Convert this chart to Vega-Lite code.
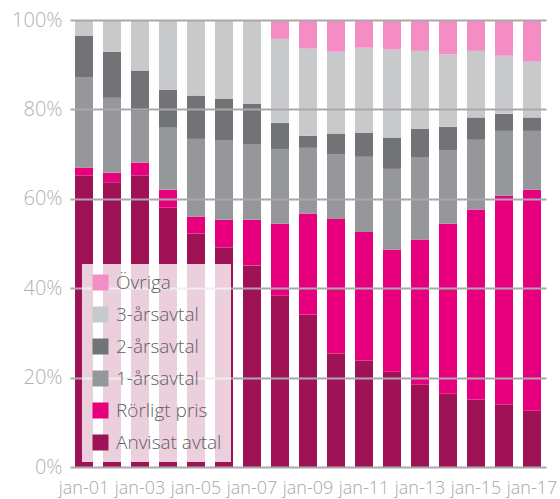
{
  "$schema": "https://vega.github.io/schema/vega-lite/v6.json",
  "width": 476,
  "height": 447,
  "autosize": {"type": "none"},
  "padding": {"left": 70, "top": 20, "right": 14, "bottom": 32},
  "background": "white",
  "config": {
    "view": {"stroke": null},
    "font": "Open Sans"
  },
  "data": {
    "values": [
      {"m": "jan-01", "Anvisat avtal": 65.2, "Rörligt pris": 1.8, "1-årsavtal": 20.1, "2-årsavtal": 9.4, "3-årsavtal": 3.5, "Övriga": 0},
      {"m": "jan-02", "Anvisat avtal": 63.7, "Rörligt pris": 2.1, "1-årsavtal": 16.8, "2-årsavtal": 10.3, "3-årsavtal": 7.1, "Övriga": 0},
      {"m": "jan-03", "Anvisat avtal": 65.2, "Rörligt pris": 2.9, "1-årsavtal": 11.4, "2-årsavtal": 9.2, "3-årsavtal": 11.3, "Övriga": 0},
      {"m": "jan-04", "Anvisat avtal": 58.0, "Rörligt pris": 4.0, "1-årsavtal": 13.9, "2-årsavtal": 8.5, "3-årsavtal": 15.6, "Övriga": 0},
      {"m": "jan-05", "Anvisat avtal": 52.2, "Rörligt pris": 3.8, "1-årsavtal": 17.4, "2-årsavtal": 9.7, "3-årsavtal": 16.9, "Övriga": 0},
      {"m": "jan-06", "Anvisat avtal": 49.1, "Rörligt pris": 6.2, "1-årsavtal": 17.7, "2-årsavtal": 9.4, "3-årsavtal": 17.6, "Övriga": 0},
      {"m": "jan-07", "Anvisat avtal": 45.1, "Rörligt pris": 10.2, "1-årsavtal": 16.8, "2-årsavtal": 9.2, "3-årsavtal": 18.7, "Övriga": 0},
      {"m": "jan-08", "Anvisat avtal": 38.3, "Rörligt pris": 16.1, "1-årsavtal": 16.6, "2-årsavtal": 6.0, "3-årsavtal": 18.8, "Övriga": 4.2},
      {"m": "jan-09", "Anvisat avtal": 34.1, "Rörligt pris": 22.6, "1-årsavtal": 14.7, "2-årsavtal": 2.7, "3-årsavtal": 19.5, "Övriga": 6.4},
      {"m": "jan-10", "Anvisat avtal": 25.4, "Rörligt pris": 30.1, "1-årsavtal": 14.4, "2-årsavtal": 4.7, "3-årsavtal": 18.3, "Övriga": 7.1},
      {"m": "jan-11", "Anvisat avtal": 23.8, "Rörligt pris": 28.8, "1-årsavtal": 16.8, "2-årsavtal": 5.4, "3-årsavtal": 19.0, "Övriga": 6.2},
      {"m": "jan-12", "Anvisat avtal": 21.3, "Rörligt pris": 27.3, "1-årsavtal": 18.1, "2-årsavtal": 7.0, "3-årsavtal": 19.7, "Övriga": 6.6},
      {"m": "jan-13", "Anvisat avtal": 18.4, "Rörligt pris": 32.5, "1-årsavtal": 18.3, "2-årsavtal": 6.5, "3-årsavtal": 17.4, "Övriga": 6.9},
      {"m": "jan-14", "Anvisat avtal": 16.4, "Rörligt pris": 38.0, "1-årsavtal": 16.4, "2-årsavtal": 5.3, "3-årsavtal": 16.2, "Övriga": 7.7},
      {"m": "jan-15", "Anvisat avtal": 15.1, "Rörligt pris": 42.5, "1-årsavtal": 15.6, "2-årsavtal": 5.0, "3-årsavtal": 14.9, "Övriga": 6.9},
      {"m": "jan-16", "Anvisat avtal": 13.9, "Rörligt pris": 46.8, "1-årsavtal": 14.5, "2-årsavtal": 3.8, "3-årsavtal": 13.0, "Övriga": 8.0},
      {"m": "jan-17", "Anvisat avtal": 12.6, "Rörligt pris": 49.4, "1-årsavtal": 13.2, "2-årsavtal": 3.0, "3-årsavtal": 12.5, "Övriga": 9.3}
    ]
  },
  "transform": [
    {"fold": ["Anvisat avtal", "Rörligt pris", "1-årsavtal", "2-årsavtal", "3-årsavtal", "Övriga"], "as": ["s", "v"]},
    {"calculate": "indexof(['Anvisat avtal','Rörligt pris','1-årsavtal','2-årsavtal','3-årsavtal','Övriga'], datum.s)", "as": "o"}
  ],
  "mark": {"type": "bar"},
  "encoding": {
    "x": {
      "field": "m",
      "type": "ordinal",
      "scale": {"paddingInner": 0.357, "paddingOuter": 0.1786},
      "axis": {
        "title": null,
        "labelAngle": 0,
        "labelExpr": "indexof(['jan-01','jan-03','jan-05','jan-07','jan-09','jan-11','jan-13','jan-15','jan-17'], datum.value) >= 0 ? datum.value : ''",
        "labelFontSize": 18,
        "labelFontWeight": 300,
        "labelColor": "#a7a7a9",
        "labelPadding": 12,
        "ticks": false,
        "domain": false,
        "labelOverlap": false
      }
    },
    "y": {
      "field": "v",
      "type": "quantitative",
      "stack": "normalize",
      "scale": {"domain": [0, 1]},
      "axis": {
        "title": null,
        "values": [0, 0.2, 0.4, 0.6, 0.8, 1],
        "format": ".0%",
        "labelFontSize": 20,
        "labelFontWeight": 300,
        "labelColor": "#b1b1b3",
        "labelPadding": 8,
        "ticks": false,
        "domain": false,
        "grid": true,
        "gridColor": "#a9a9ab",
        "gridWidth": 1.8,
        "zindex": 1
      }
    },
    "color": {
      "field": "s",
      "type": "nominal",
      "scale": {
        "domain": ["Övriga", "3-årsavtal", "2-årsavtal", "1-årsavtal", "Rörligt pris", "Anvisat avtal"],
        "range": ["#f38dc4", "#c8c9ca", "#727376", "#96979a", "#e6007e", "#a01256"]
      },
      "legend": {
        "title": null,
        "orient": "none",
        "legendX": 12,
        "legendY": 244,
        "fillColor": "rgba(255,255,255,0.8)",
        "padding": 9,
        "symbolType": "square",
        "symbolSize": 256,
        "symbolStrokeWidth": 0,
        "symbolOpacity": 1,
        "labelFontSize": 19,
        "labelFontWeight": 300,
        "labelColor": "#5e5f62",
        "labelOffset": 6,
        "rowPadding": 12,
        "zindex": 2
      }
    },
    "order": {"field": "o", "type": "quantitative"}
  }
}
